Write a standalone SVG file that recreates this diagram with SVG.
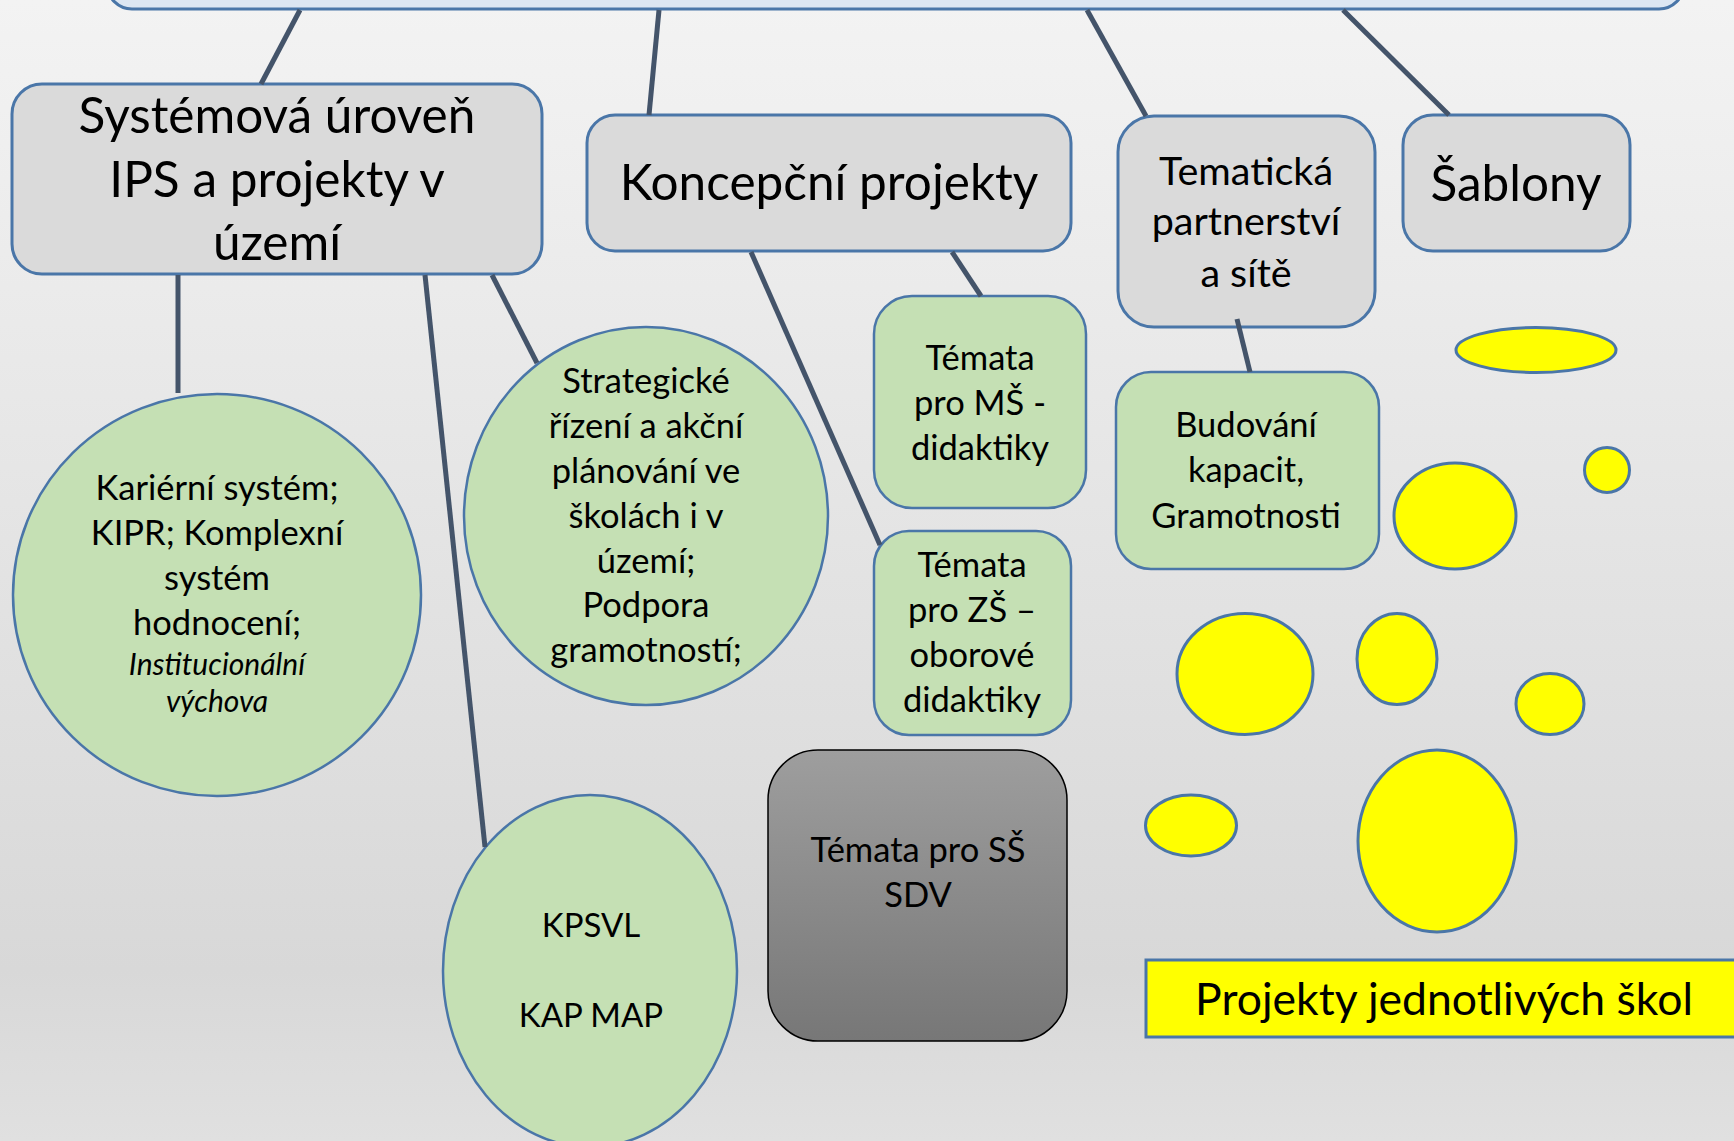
<svg xmlns="http://www.w3.org/2000/svg" width="1734" height="1141" viewBox="0 0 1734 1141">
<defs>
<linearGradient id="bg" x1="0" y1="0" x2="0" y2="1">
<stop offset="0" stop-color="#f3f3f3"/>
<stop offset="0.85" stop-color="#d8d8d8"/>
<stop offset="1" stop-color="#e0e0e0"/>
</linearGradient>
<linearGradient id="dark" x1="0" y1="0" x2="0" y2="1">
<stop offset="0" stop-color="#9e9e9e"/>
<stop offset="1" stop-color="#777777"/>
</linearGradient>
<style>
.gray{fill:#dadada;stroke:#4a76a8;stroke-width:3}
.green{fill:#c5e0b4;stroke:#4a76a8;stroke-width:2.5}
.yel{fill:#ffff00;stroke:#4a76a8;stroke-width:3}
.conn line{stroke:#44546a;stroke-width:5;stroke-linecap:butt}
text{font-family:Lato,"Liberation Sans",sans-serif;fill:#000;text-anchor:middle}
.big{font-size:49.5px}
.mid{font-size:39.5px}
.sm{font-size:34.5px}
.caps{font-size:33px}
.it{font-size:30px;font-style:italic}
.pj{font-size:44.5px}
</style>
</defs>
<rect x="0" y="0" width="1734" height="1141" fill="url(#bg)"/>

<g id="top">
<rect x="107" y="-60" width="1577" height="69" rx="25" fill="#dce6f2" stroke="#4a76a8" stroke-width="3"/>
</g>

<g id="systemova">
<rect class="gray" x="12" y="84" width="530" height="190" rx="30"/>
<text class="big" x="277" y="133">Systémová úroveň</text>
<text class="big" x="277" y="197">IPS a projekty v</text>
<text class="big" x="277" y="260">území</text>
</g>

<g id="koncepcni">
<rect class="gray" x="587" y="115" width="484" height="136" rx="28"/>
<text class="big" x="829" y="200">Koncepční projekty</text>
</g>

<g id="tematicka">
<rect class="gray" x="1118" y="116" width="257" height="211" rx="36"/>
<text class="mid" x="1246" y="185">Tematická</text>
<text class="mid" x="1246" y="235">partnerství</text>
<text class="mid" x="1246" y="287">a sítě</text>
</g>

<g id="sablony">
<rect class="gray" x="1403" y="115" width="227" height="136" rx="30"/>
<text class="big" x="1516" y="201">Šablony</text>
</g>

<g id="karierni">
<ellipse class="green" cx="217" cy="595" rx="204" ry="201"/>
<text class="sm" x="217" y="500">Kariérní systém;</text>
<text class="sm" x="217" y="545">KIPR; Komplexní</text>
<text class="sm" x="217" y="590">systém</text>
<text class="sm" x="217" y="635">hodnocení;</text>
<text class="it" x="217" y="675">Institucionální</text>
<text class="it" x="217" y="712">výchova</text>
</g>

<g id="strategicke">
<ellipse class="green" cx="646" cy="516" rx="182" ry="189"/>
<text class="sm" x="646" y="393">Strategické</text>
<text class="sm" x="646" y="438">řízení a akční</text>
<text class="sm" x="646" y="483">plánování ve</text>
<text class="sm" x="646" y="528">školách i v</text>
<text class="sm" x="646" y="573">území;</text>
<text class="sm" x="646" y="617">Podpora</text>
<text class="sm" x="646" y="662">gramotností;</text>
</g>

<g id="kpsvl">
<ellipse class="green" cx="590" cy="971" rx="147" ry="176"/>
<text class="caps" x="591" y="937">KPSVL</text>
<text class="caps" x="591" y="1027">KAP MAP</text>
</g>

<g id="temata-ms">
<rect class="green" x="874" y="296" width="212" height="212" rx="38"/>
<text class="sm" x="980" y="370">Témata</text>
<text class="sm" x="980" y="415">pro MŠ -</text>
<text class="sm" x="980" y="460">didaktiky</text>
</g>

<g id="temata-zs">
<rect class="green" x="874" y="531" width="197" height="204" rx="35"/>
<text class="sm" x="972" y="577">Témata</text>
<text class="sm" x="972" y="622">pro ZŠ –</text>
<text class="sm" x="972" y="667">oborové</text>
<text class="sm" x="972" y="712">didaktiky</text>
</g>

<g id="temata-ss">
<rect x="768" y="750" width="299" height="291" rx="50" fill="url(#dark)" stroke="#000" stroke-width="1.5"/>
<text class="sm" x="918" y="862">Témata pro SŠ</text>
<text class="sm" x="918" y="907">SDV</text>
</g>

<g id="budovani">
<rect class="green" x="1116" y="372" width="263" height="197" rx="35"/>
<text class="sm" x="1246" y="437">Budování</text>
<text class="sm" x="1246" y="482">kapacit,</text>
<text class="sm" x="1246" y="528">Gramotnosti</text>
</g>

<g id="skoly">
<ellipse class="yel" cx="1536" cy="350" rx="80" ry="22.5"/>
<ellipse class="yel" cx="1607" cy="470" rx="22.5" ry="22.5"/>
<ellipse class="yel" cx="1455" cy="516" rx="61" ry="53"/>
<ellipse class="yel" cx="1245" cy="674" rx="68" ry="60.5"/>
<ellipse class="yel" cx="1397" cy="659" rx="40" ry="45.5"/>
<ellipse class="yel" cx="1550" cy="704" rx="34" ry="30.5"/>
<ellipse class="yel" cx="1191" cy="825.5" rx="45.5" ry="30.5"/>
<ellipse class="yel" cx="1437" cy="841" rx="79" ry="91"/>
</g>

<g id="projekty">
<rect x="1146" y="960" width="620" height="77" fill="#ffff00" stroke="#4a76a8" stroke-width="3"/>
<text class="pj" x="1444" y="1015">Projekty jednotlivých škol</text>
</g>

<g id="connectors" class="conn">
<line x1="300" y1="10" x2="261" y2="84"/>
<line x1="659" y1="10" x2="649" y2="115"/>
<line x1="1087" y1="10" x2="1146" y2="116"/>
<line x1="1343" y1="10" x2="1449" y2="115"/>
<line x1="178" y1="275" x2="178" y2="393"/>
<line x1="425" y1="275" x2="485" y2="847"/>
<line x1="492" y1="275" x2="537" y2="363"/>
<line x1="751" y1="252" x2="880" y2="545"/>
<line x1="952" y1="252" x2="981" y2="296"/>
<line x1="1237" y1="319" x2="1250" y2="372"/>
</g>
</svg>
